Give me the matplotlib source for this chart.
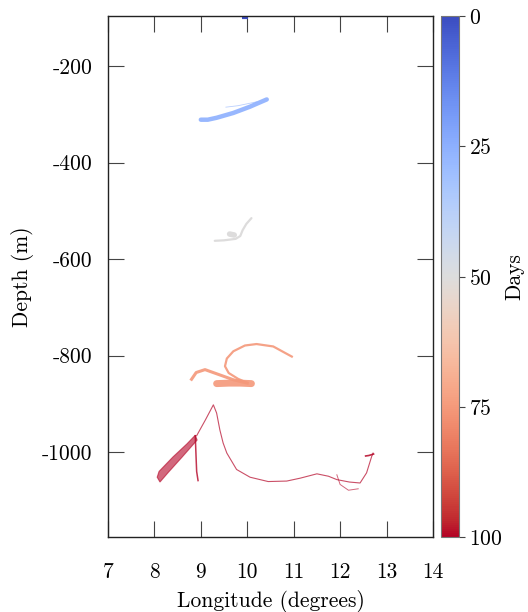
import matplotlib
matplotlib.use("Agg")
import matplotlib.pyplot as plt
from matplotlib import cm, colors

plt.rcParams["font.family"] = "serif"
plt.rcParams["font.serif"] = ["cmr10", "DejaVu Serif"]
plt.rcParams["axes.unicode_minus"] = False
plt.rcParams["axes.formatter.use_mathtext"] = True

# particle snapshots (longitude, depth), day of snapshot
day0_lon = [9.88, 9.95, 10.01]
day0_depth = [-99, -99, -99]

day25_lon = [9.0, 9.15, 9.34, 9.7, 10.06, 10.25, 10.42]
day25_depth = [-311, -311, -307, -297, -284, -276, -269]
day25_faint_lon = [9.54, 9.8, 10.2]
day25_faint_depth = [-285, -282, -274]

day50_lon = [9.3, 9.5, 9.75, 9.85, 9.9, 9.98, 10.09]
day50_depth = [-562, -561, -558, -552, -540, -527, -515]
day50_blob_lon = [9.62, 9.72]
day50_blob_depth = [-548, -550]

day75_arc_lon = [9.99, 9.8, 9.6, 9.52, 9.56, 9.70, 9.95, 10.20, 10.56, 10.96]
day75_arc_depth = [-856, -848, -836, -822, -806, -791, -779, -776, -781, -802]
day75_hook_lon = [8.80, 8.9, 9.09, 9.41, 9.70, 10.0]
day75_hook_depth = [-849, -835, -829, -840, -850, -857]
day75_blob_lon = [9.34, 9.6, 9.85, 10.09]
day75_blob_depth = [-858, -857, -857, -858]

day100_lon = [8.91, 9.1, 9.27, 9.34, 9.41, 9.48, 9.56, 9.77, 10.06, 10.45,
              10.85, 11.14, 11.50, 11.75, 11.93, 12.2, 12.43, 12.57, 12.68, 12.71]
day100_depth = [-966, -933, -902, -919, -954, -981, -1002, -1036, -1052, -1061,
                -1060, -1054, -1045, -1050, -1057, -1062, -1064, -1043, -1009, -1002]
day100_branch_lon = [11.93, 12.0, 12.18, 12.39]
day100_branch_depth = [-1047, -1067, -1079, -1076]
day100_strand_lon = [8.88, 8.90, 8.91, 8.94]
day100_strand_depth = [-966, -1016, -1040, -1059]
day100_hook_lon = [12.55, 12.62, 12.72]
day100_hook_depth = [-1008, -1007, -1004]
day100_wedge_lon = [8.06, 8.10, 8.4, 8.7, 8.88, 8.92, 8.6, 8.3, 8.12]
day100_wedge_depth = [-1052, -1040, -1010, -983, -965, -975, -1010, -1042, -1062]

day_ticks = [0, 25, 50, 75, 100]
x_ticks = [7, 8, 9, 10, 11, 12, 13, 14]
y_ticks = [-200, -400, -600, -800, -1000]

cmap = plt.get_cmap("coolwarm")
norm = colors.Normalize(vmin=0, vmax=100)
fs = 15.5

fig = plt.figure(figsize=(5.28, 6.12), dpi=100)
ax = fig.add_axes([0.2045, 0.1225, 0.6155, 0.8514])
cax = fig.add_axes([0.835, 0.1225, 0.034, 0.8514])

c0, c25, c50, c75, c100 = [cmap(norm(d)) for d in day_ticks]

ax.plot(day0_lon, day0_depth, color=c0, lw=3, solid_capstyle="butt")
ax.plot(day25_lon, day25_depth, color=c25, lw=3.2, alpha=0.9, solid_capstyle="round")
ax.plot(day25_faint_lon, day25_faint_depth, color=c25, lw=0.6, alpha=0.6)
ax.plot(day50_lon, day50_depth, color=c50, lw=1.6, solid_capstyle="round")
ax.plot(day50_blob_lon, day50_blob_depth, color=c50, lw=4, solid_capstyle="round")
ax.plot(day75_arc_lon, day75_arc_depth, color=c75, lw=1.6, alpha=0.9)
ax.plot(day75_hook_lon, day75_hook_depth, color=c75, lw=2.2, alpha=0.9)
ax.plot(day75_blob_lon, day75_blob_depth, color=c75, lw=5, alpha=0.9, solid_capstyle="round")
ax.plot(day100_lon, day100_depth, color=c100, lw=0.8, alpha=0.7)
ax.plot(day100_branch_lon, day100_branch_depth, color=c100, lw=0.7, alpha=0.6)
ax.plot(day100_strand_lon, day100_strand_depth, color=c100, lw=1.1, alpha=0.8)
ax.plot(day100_hook_lon, day100_hook_depth, color=c100, lw=1.2, alpha=0.85)
ax.fill(day100_wedge_lon, day100_wedge_depth, color=c100, alpha=0.6, lw=0.8)

ax.set_xlim(7, 14)
ax.set_ylim(-1176, -96)
ax.set_xticks(x_ticks)
ax.set_yticks(y_ticks)
ax.set_xticklabels([str(t) for t in x_ticks])
ax.set_yticklabels([str(t) for t in y_ticks])
ax.tick_params(direction="in", length=11.5, width=0.8, top=True, right=True,
               labelsize=fs, color="#444444")
ax.tick_params(axis="x", pad=18)
ax.tick_params(axis="y", pad=11)
for s in ax.spines.values():
    s.set_linewidth(1.0)
    s.set_color("#222222")
ax.set_xlabel("Longitude (degrees)", fontsize=fs, labelpad=6)
ax.set_ylabel("Depth (m)", fontsize=fs, labelpad=6)

sm = cm.ScalarMappable(norm=norm, cmap=cmap)
cbar = fig.colorbar(sm, cax=cax, ticks=day_ticks)
cbar.ax.invert_yaxis()
cbar.ax.tick_params(length=4, width=0.8, labelsize=fs, color="#444444", pad=3)
cbar.outline.set_edgecolor("#777777")
cbar.set_label("Days", fontsize=fs, labelpad=2)

fig.savefig("out.png", dpi=100)
